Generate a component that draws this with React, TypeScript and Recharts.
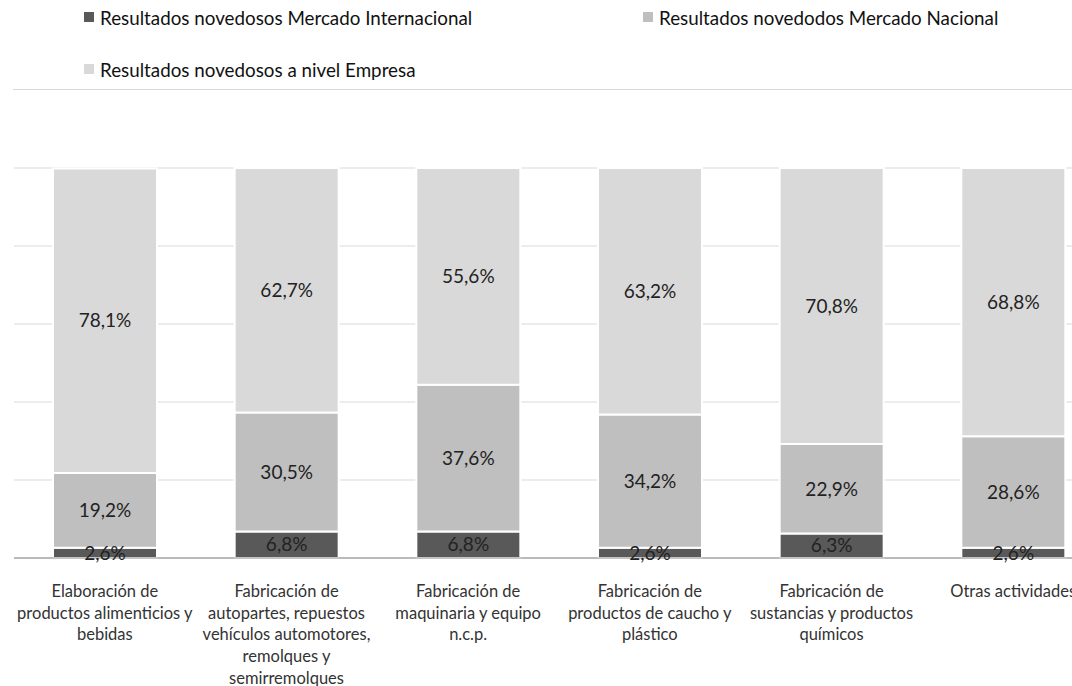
import React from 'react';
import {
  BarChart,
  Bar,
  XAxis,
  YAxis,
  CartesianGrid,
  Legend,
  LabelList,
} from 'recharts';

const categories = [
  'Elaboración de productos alimenticios y bebidas',
  'Fabricación de autopartes, repuestos vehículos automotores, remolques y semirremolques',
  'Fabricación de maquinaria y equipo n.c.p.',
  'Fabricación de productos de caucho y plástico',
  'Fabricación de sustancias y productos químicos',
  'Otras actividades',
];

const tickLines = [
  ['Elaboración de', 'productos alimenticios y', 'bebidas'],
  ['Fabricación de', 'autopartes, repuestos', 'vehículos automotores,', 'remolques y', 'semirremolques'],
  ['Fabricación de', 'maquinaria y equipo', 'n.c.p.'],
  ['Fabricación de', 'productos de caucho y', 'plástico'],
  ['Fabricación de', 'sustancias y productos', 'químicos'],
  ['Otras actividades'],
];

const internacional = [2.6, 6.8, 6.8, 2.6, 6.3, 2.6];
const nacional = [19.2, 30.5, 37.6, 34.2, 22.9, 28.6];
const empresa = [78.1, 62.7, 55.6, 63.2, 70.8, 68.8];

const seriesNames = [
  'Resultados novedosos Mercado Internacional',
  'Resultados novedodos Mercado Nacional',
  'Resultados novedosos a nivel Empresa',
];
const seriesColors = ['#595959', '#bfbfbf', '#d9d9d9'];
const yTicks = [0, 20, 40, 60, 80, 100];

const data = categories.map((name, i) => ({
  name,
  internacional: internacional[i],
  nacional: nacional[i],
  empresa: empresa[i],
}));

const FONT = 'Lato, "Open Sans", sans-serif';

const fmt = (v: any) => `${Number(v).toFixed(1).replace('.', ',')}%`;

const CategoryTick = (props: any) => {
  const { x, y, payload } = props;
  const lines = tickLines[payload.index] || [payload.value];
  return (
    <text x={x} y={y} textAnchor="middle" fill="#333" fontSize={16.5} fontFamily={FONT}>
      {lines.map((line: string, i: number) => (
        <tspan key={i} x={x} y={y + 39 + i * 21.7}>
          {line}
        </tspan>
      ))}
    </text>
  );
};

const legendSpots = [
  { left: 84, top: 17 },
  { left: 643, top: 17 },
  { left: 84, top: 69 },
];

const LegendBox = () => (
  <div style={{ position: 'relative', width: 1072, height: 90, fontFamily: FONT }}>
    {seriesNames.map((name, i) => (
      <div
        key={name}
        style={{
          position: 'absolute',
          left: legendSpots[i].left,
          top: legendSpots[i].top - 12,
          height: 24,
          display: 'flex',
          alignItems: 'center',
          whiteSpace: 'nowrap',
          fontSize: 18.8,
          color: '#111',
        }}
      >
        <span
          style={{
            display: 'inline-block',
            width: 10,
            height: 10,
            background: seriesColors[i],
            marginRight: 6,
          }}
        />
        {name}
      </div>
    ))}
    <div
      style={{
        position: 'absolute',
        left: 13,
        top: 89,
        width: 1100,
        height: 1,
        background: '#d9d9d9',
      }}
    />
  </div>
);

const labelStyle = { fill: '#222', fontSize: 19, fontFamily: FONT };

export default function App() {
  return (
    <div
      style={{
        position: 'absolute',
        left: 0,
        top: 0,
        width: 1072,
        height: 686,
        overflow: 'hidden',
        background: '#fff',
      }}
    >
      <BarChart
        width={1104}
        height={686}
        data={data}
        margin={{ top: 78, right: 0, left: 14, bottom: 0 }}
        barSize={104}
      >
        <CartesianGrid vertical={false} stroke="#d9d9d9" />
        <YAxis hide domain={[0, 100]} ticks={yTicks} />
        <XAxis
          dataKey="name"
          height={128}
          tickLine={false}
          tickSize={0}
          tickMargin={0}
          axisLine={{ stroke: '#888' }}
          tick={<CategoryTick />}
          interval={0}
        />
        <Legend
          verticalAlign="top"
          align="left"
          wrapperStyle={{ top: 0, left: 0, width: 1072, height: 90 }}
          content={() => <LegendBox />}
        />
        <Bar dataKey="internacional" stackId="a" fill={seriesColors[0]} stroke="#fff" strokeWidth={2} isAnimationActive={false}>
          <LabelList dataKey="internacional" position="center" formatter={fmt} {...labelStyle} />
        </Bar>
        <Bar dataKey="nacional" stackId="a" fill={seriesColors[1]} stroke="#fff" strokeWidth={2} isAnimationActive={false}>
          <LabelList dataKey="nacional" position="center" formatter={fmt} {...labelStyle} />
        </Bar>
        <Bar dataKey="empresa" stackId="a" fill={seriesColors[2]} stroke="#fff" strokeWidth={2} isAnimationActive={false}>
          <LabelList dataKey="empresa" position="center" formatter={fmt} {...labelStyle} />
        </Bar>
      </BarChart>
    </div>
  );
}
